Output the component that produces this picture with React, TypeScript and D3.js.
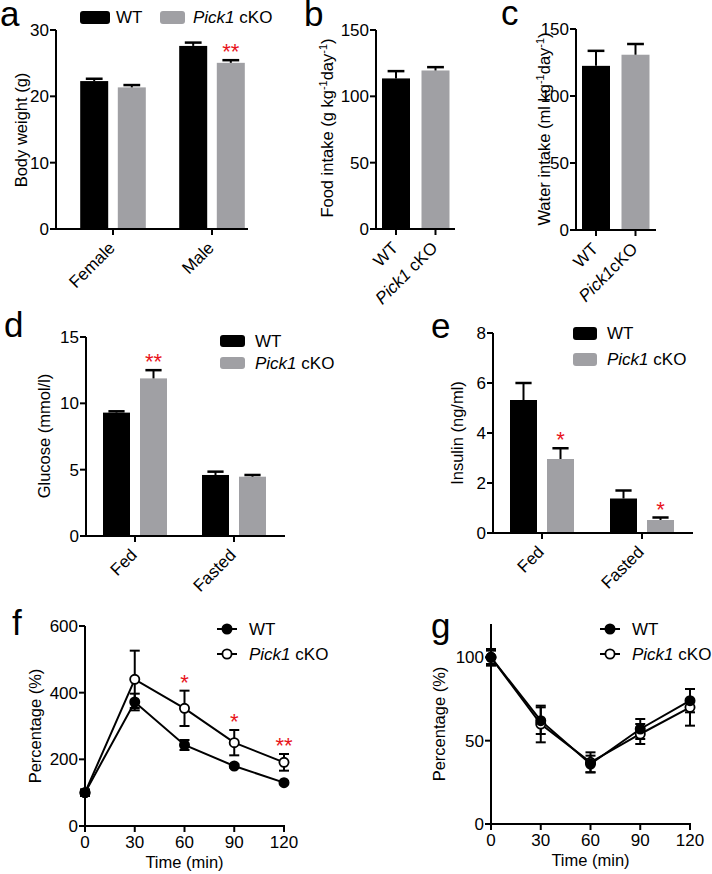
import React from "react";
import * as d3 from "d3";

const FONT = "Arial, 'Liberation Sans', Helvetica, sans-serif";
const BLACK = "#000000";
const GRAY = "#a0a0a4";
const RED = "#e8141c";

// a: body weight (g)
const weightGroups = ["Female", "Male"];
const weightWT = [22.3, 27.6];
const weightWTErr = [0.35, 0.5];
const weightKO = [21.35, 25.05];
const weightKOErr = [0.35, 0.4];
const weightKOStars = ["", "**"];
const weightTicks = [0, 10, 20, 30];

// b: food intake
const intakeGroups = ["WT", "Pick1 cKO"];
const foodValues = [113.5, 119.5];
const foodErr = [5.5, 2.5];
const intakeTicks = [0, 50, 100, 150];

// c: water intake
const waterGroups = ["WT", "Pick1cKO"];
const waterValues = [122.5, 130.8];
const waterErr = [11.2, 8];

// d: glucose
const feedGroups = ["Fed", "Fasted"];
const glucoseWT = [9.3, 4.6];
const glucoseWTErr = [0.1, 0.25];
const glucoseKO = [11.88, 4.47];
const glucoseKOErr = [0.62, 0.13];
const glucoseKOStars = ["**", ""];
const glucoseTicks = [0, 5, 10, 15];

// e: insulin
const insulinWT = [5.32, 1.38];
const insulinWTErr = [0.68, 0.32];
const insulinKO = [2.96, 0.52];
const insulinKOErr = [0.43, 0.1];
const insulinKOStars = ["*", "*"];
const insulinTicks = [0, 2, 4, 6, 8];

// f: glucose tolerance
const times = [0, 30, 60, 90, 120];
const gttWT = [100, 372, 243, 180, 130];
const gttWTErr = [8, 25, 15, 5, 4];
const gttKO = [100, 440, 353, 250, 191];
const gttKOErr = [10, 86, 53, 38, 25];
const gttStars = ["", "", "*", "*", "**"];
const gttTicks = [0, 200, 400, 600];

// g: insulin tolerance
const ittWT = [100, 62, 36, 57, 74];
const ittWTErr = [5, 8, 5, 6, 7];
const ittKO = [100, 60, 37, 54, 70];
const ittKOErr = [4, 11, 6, 6, 11];
const ittTicks = [0, 50, 100];

const seriesNames = ["WT", "Pick1 cKO"];

function label(text: string) {
  if (text.startsWith("Pick1")) {
    return [
      <tspan key="i" fontStyle="italic">Pick1</tspan>,
      <tspan key="r">{text.slice(5)}</tspan>,
    ];
  }
  return text;
}

function YAxis({ scale, x, ticks }: any) {
  const [r0, r1] = scale.range();
  return (
    <g>
      <line x1={x} x2={x} y1={r0 + 1} y2={r1} stroke={BLACK} strokeWidth={2} />
      {ticks.map((t: number) => (
        <g key={t}>
          <line x1={x - 6} x2={x} y1={scale(t)} y2={scale(t)} stroke={BLACK} strokeWidth={2} />
          <text x={x - 7} y={scale(t)} dy="0.35em" textAnchor="end" fontSize={17}>
            {t}
          </text>
        </g>
      ))}
    </g>
  );
}

function YTitle({ x, y, children }: any) {
  return (
    <text transform={`translate(${x},${y}) rotate(-90)`} textAnchor="middle" fontSize={16.5}>
      {children}
    </text>
  );
}

function Letter({ x, y, children }: any) {
  return (
    <text x={x} y={y} fontSize={35}>
      {children}
    </text>
  );
}

// legend swatches: one entry per series, positions given per entry
function BarLegend({ xs, ys, textXs, ws, h }: any) {
  return (
    <g>
      {seriesNames.map((s, i) => (
        <g key={s}>
          <rect x={xs[i]} y={ys[i]} width={ws[i]} height={h} rx={3} fill={i === 0 ? BLACK : GRAY} />
          <text x={textXs[i]} y={ys[i] + h / 2} dy="0.35em" fontSize={17}>
            {label(s)}
          </text>
        </g>
      ))}
    </g>
  );
}

type Bar = { group: string; series: string; value: number; err: number; star: string; color: string };

function BarPanel({ axisX, axisRight, yBottom, yTop, yMax, ticks, groups, centers, series, offset, barW, bars }: any) {
  const y = d3.scaleLinear().domain([0, yMax]).range([yBottom, yTop]);
  const x0 = d3.scalePoint<string>().domain(groups).range(centers);
  const x1 = d3.scalePoint<string>().domain(series).range([-offset, offset]);
  const capW = barW * 0.6;
  return (
    <g>
      {bars.map((b: Bar, i: number) => {
        const cx = (x0(b.group) as number) + (x1(b.series) as number);
        const top = y(b.value + b.err);
        return (
          <g key={i}>
            <rect x={cx - barW / 2} y={y(b.value)} width={barW} height={yBottom - y(b.value)} fill={b.color} />
            <line x1={cx} x2={cx} y1={y(b.value)} y2={top} stroke={BLACK} strokeWidth={2} />
            <line x1={cx - capW / 2} x2={cx + capW / 2} y1={top} y2={top} stroke={BLACK} strokeWidth={2.5} />
            {b.star && (
              <text x={cx} y={top - 1} textAnchor="middle" fontSize={22} fill={RED}>
                {b.star}
              </text>
            )}
          </g>
        );
      })}
      <YAxis scale={y} x={axisX} ticks={ticks} />
      <line x1={axisX - 1} x2={axisRight} y1={yBottom} y2={yBottom} stroke={BLACK} strokeWidth={2} />
      {groups.map((g: string) => {
        const gx = x0(g) as number;
        return (
          <g key={g}>
            <line x1={gx} x2={gx} y1={yBottom} y2={yBottom + 6} stroke={BLACK} strokeWidth={2} />
            <text transform={`translate(${gx + 3},${yBottom + 20}) rotate(-45)`} textAnchor="end" fontSize={17}>
              {label(g)}
            </text>
          </g>
        );
      })}
    </g>
  );
}

function groupedBars(groups: string[], wt: number[], wtErr: number[], ko: number[], koErr: number[], koStars: string[]) {
  const out: Bar[] = [];
  groups.forEach((g, i) => {
    out.push({ group: g, series: "WT", value: wt[i], err: wtErr[i], star: "", color: BLACK });
    out.push({ group: g, series: "KO", value: ko[i], err: koErr[i], star: koStars[i], color: GRAY });
  });
  return out;
}

function pairBars(groups: string[], vals: number[], errs: number[]) {
  return groups.map((g, i) => ({ group: g, series: "one", value: vals[i], err: errs[i], star: "", color: i === 0 ? BLACK : GRAY }));
}

function LinePanel({ axisX, axisRight, yBottom, yTop, yMax, ticks, wt, wtErr, ko, koErr, stars, legendX, legendY }: any) {
  const x = d3.scaleLinear().domain([0, 120]).range([axisX, axisRight]);
  const y = d3.scaleLinear().domain([0, yMax]).range([yBottom, yTop]);
  const line = d3
    .line<number>()
    .x((_, i) => x(times[i]))
    .y((d) => y(d));
  const list = [
    { values: ko, errs: koErr, filled: false },
    { values: wt, errs: wtErr, filled: true },
  ];
  return (
    <g>
      <YAxis scale={y} x={axisX} ticks={ticks} />
      <line x1={axisX - 1} x2={axisRight + 1} y1={yBottom} y2={yBottom} stroke={BLACK} strokeWidth={2} />
      {times.map((t) => (
        <g key={t}>
          <line x1={x(t)} x2={x(t)} y1={yBottom} y2={yBottom + 6} stroke={BLACK} strokeWidth={2} />
          <text x={x(t)} y={yBottom + 22} textAnchor="middle" fontSize={17}>
            {t}
          </text>
        </g>
      ))}
      <text x={(axisX + axisRight) / 2} y={yBottom + 42} textAnchor="middle" fontSize={16.5}>
        Time (min)
      </text>
      {list.map((s, k) => (
        <path key={"l" + k} d={line(s.values) as string} fill="none" stroke={BLACK} strokeWidth={2} />
      ))}
      {list.map((s, k) =>
        s.values.map((v: number, i: number) => {
          const cx = x(times[i]);
          const hi = y(v + s.errs[i]);
          const lo = y(v - s.errs[i]);
          return (
            <g key={k + "-" + i}>
              <line x1={cx} x2={cx} y1={hi} y2={lo} stroke={BLACK} strokeWidth={2} />
              <line x1={cx - 5} x2={cx + 5} y1={hi} y2={hi} stroke={BLACK} strokeWidth={2} />
              <line x1={cx - 5} x2={cx + 5} y1={lo} y2={lo} stroke={BLACK} strokeWidth={2} />
            </g>
          );
        })
      )}
      {list.map((s, k) =>
        s.values.map((v: number, i: number) => (
          <circle
            key={"c" + k + "-" + i}
            cx={x(times[i])}
            cy={y(v)}
            r={4.6}
            fill={s.filled ? BLACK : "#ffffff"}
            stroke={BLACK}
            strokeWidth={1.8}
          />
        ))
      )}
      {stars &&
        stars.map((st: string, i: number) =>
          st ? (
            <text key={"s" + i} x={x(times[i])} y={y(ko[i] + koErr[i]) - 1} textAnchor="middle" fontSize={22} fill={RED}>
              {st}
            </text>
          ) : null
        )}
      {seriesNames.map((n, i) => (
        <g key={n}>
          <line x1={legendX} x2={legendX + 20} y1={legendY + i * 25} y2={legendY + i * 25} stroke={BLACK} strokeWidth={2} />
          <circle
            cx={legendX + 10}
            cy={legendY + i * 25}
            r={4.6}
            fill={i === 0 ? BLACK : "#ffffff"}
            stroke={BLACK}
            strokeWidth={1.8}
          />
          <text x={legendX + 32} y={legendY + i * 25} dy="0.35em" fontSize={17}>
            {label(n)}
          </text>
        </g>
      ))}
    </g>
  );
}

const sup = (t: string) => (
  <tspan fontSize={11} dy={-6}>
    {t}
  </tspan>
);

export default function App() {
  return (
    <svg
      width={712}
      height={874}
      style={{ position: "absolute", left: 0, top: 0, background: "#fff" }}
      fontFamily={FONT}
    >
      {/* a */}
      <Letter x={0} y={26}>a</Letter>
      <BarLegend xs={[80, 160]} ys={[11, 11]} textXs={[116, 193]} ws={[30, 25]} h={13} />
      <YTitle x={27} y={130}>Body weight (g)</YTitle>
      <BarPanel
        axisX={56}
        axisRight={248}
        yBottom={229}
        yTop={30}
        yMax={30}
        ticks={weightTicks}
        groups={weightGroups}
        centers={[113, 212]}
        series={["WT", "KO"]}
        offset={18.8}
        barW={28}
        bars={groupedBars(weightGroups, weightWT, weightWTErr, weightKO, weightKOErr, weightKOStars)}
      />

      {/* b */}
      <Letter x={304} y={26}>b</Letter>
      <YTitle x={333} y={128}>
        Food intake (g kg{sup("-1")}
        <tspan dy={6} fontSize={16.5}>day</tspan>
        {sup("-1")}
        <tspan dy={6} fontSize={16.5}>)</tspan>
      </YTitle>
      <BarPanel
        axisX={376}
        axisRight={455}
        yBottom={229}
        yTop={30}
        yMax={150}
        ticks={intakeTicks}
        groups={intakeGroups}
        centers={[396, 435.5]}
        series={["one"]}
        offset={0}
        barW={28}
        bars={pairBars(intakeGroups, foodValues, foodErr)}
      />

      {/* c */}
      <Letter x={501} y={25}>c</Letter>
      <YTitle x={550} y={129}>
        Water intake (ml kg{sup("-1")}
        <tspan dy={6} fontSize={16.5}>day</tspan>
        {sup("-1")}
        <tspan dy={6} fontSize={16.5}>)</tspan>
      </YTitle>
      <BarPanel
        axisX={576}
        axisRight={656}
        yBottom={230}
        yTop={29}
        yMax={150}
        ticks={intakeTicks}
        groups={waterGroups}
        centers={[596, 635.5]}
        series={["one"]}
        offset={0}
        barW={28}
        bars={pairBars(waterGroups, waterValues, waterErr)}
      />

      {/* d */}
      <Letter x={4} y={337}>d</Letter>
      <BarLegend xs={[220, 220]} ys={[335, 357]} textXs={[255, 255]} ws={[25, 25]} h={12} />
      <YTitle x={50} y={436}>Glucose (mmol/l)</YTitle>
      <BarPanel
        axisX={86}
        axisRight={285}
        yBottom={536}
        yTop={337}
        yMax={15}
        ticks={glucoseTicks}
        groups={feedGroups}
        centers={[135, 234]}
        series={["WT", "KO"]}
        offset={18.5}
        barW={27}
        bars={groupedBars(feedGroups, glucoseWT, glucoseWTErr, glucoseKO, glucoseKOErr, glucoseKOStars)}
      />

      {/* e */}
      <Letter x={431} y={338}>e</Letter>
      <BarLegend xs={[573, 573]} ys={[327, 353]} textXs={[607, 607]} ws={[24, 24]} h={13} />
      <YTitle x={463} y={433}>Insulin (ng/ml)</YTitle>
      <BarPanel
        axisX={493}
        axisRight={693}
        yBottom={533}
        yTop={333}
        yMax={8}
        ticks={insulinTicks}
        groups={feedGroups}
        centers={[542, 642]}
        series={["WT", "KO"]}
        offset={18.5}
        barW={27}
        bars={groupedBars(feedGroups, insulinWT, insulinWTErr, insulinKO, insulinKOErr, insulinKOStars)}
      />

      {/* f */}
      <Letter x={12} y={635}>f</Letter>
      <YTitle x={41} y={726}>Percentage (%)</YTitle>
      <LinePanel
        axisX={85}
        axisRight={284}
        yBottom={826}
        yTop={626}
        yMax={600}
        ticks={gttTicks}
        wt={gttWT}
        wtErr={gttWTErr}
        ko={gttKO}
        koErr={gttKOErr}
        stars={gttStars}
        legendX={217}
        legendY={629}
      />

      {/* g */}
      <Letter x={431} y={638}>g</Letter>
      <YTitle x={445} y={724}>Percentage (%)</YTitle>
      <LinePanel
        axisX={491}
        axisRight={690}
        yBottom={824}
        yTop={624}
        yMax={120}
        ticks={ittTicks}
        wt={ittWT}
        wtErr={ittWTErr}
        ko={ittKO}
        koErr={ittKOErr}
        stars={null}
        legendX={600}
        legendY={629}
      />
    </svg>
  );
}
